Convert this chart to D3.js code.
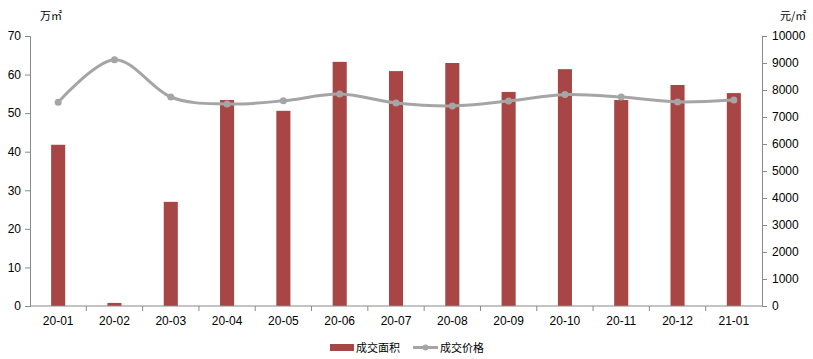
<!DOCTYPE html>
<html><head><meta charset="utf-8">
<script src="https://cdn.jsdelivr.net/npm/d3@7/dist/d3.min.js"></script>
<style>body{margin:0;background:#fff}svg{display:block;font-family:"Noto Sans CJK SC","Noto Sans",sans-serif}</style>
</head><body><svg id="c" width="813" height="359"></svg>
<script>
const categories = ["20-01","20-02","20-03","20-04","20-05","20-06","20-07","20-08","20-09","20-10","20-11","20-12","21-01"];
const area = [41.8,0.8,27.0,53.4,50.6,63.3,60.9,63.0,55.5,61.4,53.4,57.3,55.2];
const price = [7550,9120,7740,7480,7600,7850,7520,7410,7590,7830,7740,7560,7630];
const leftTicks = [0,10,20,30,40,50,60,70];
const rightTicks = [0,1000,2000,3000,4000,5000,6000,7000,8000,9000,10000];
const seriesNames = ["成交面积","成交价格"];
const units = ["万㎡","元/㎡"];

const svg = d3.select("#c");
const L=30,R=762,T=36,B=306;
const axisColor="#898989", barColor="#A84645", lineColor="#A5A5A5";
const x = d3.scaleBand().domain(categories).range([L,R]);
const yL = d3.scaleLinear().domain([0,70]).range([B,T]);
const yR = d3.scaleLinear().domain([0,10000]).range([B,T]);

// bars
const bw = x.bandwidth()*0.25;
svg.append("g").selectAll("rect").data(area).join("rect")
  .attr("x",(d,i)=>x(categories[i])+x.bandwidth()/2-bw/2)
  .attr("y",d=>yL(d)).attr("width",bw).attr("height",d=>B-yL(d)).attr("fill",barColor);

// axes
function styleAxis(g){g.selectAll("path,line").attr("stroke",axisColor);g.selectAll("text").attr("fill","#000").style("font-size","12px");}
svg.append("g").attr("transform",`translate(${L},0)`).call(d3.axisLeft(yL).tickValues(leftTicks).tickFormat(d3.format("d")).tickSizeOuter(0).tickSize(5).tickPadding(4)).call(styleAxis);
svg.append("g").attr("transform",`translate(${R},0)`).call(d3.axisRight(yR).tickValues(rightTicks).tickFormat(d3.format("d")).tickSizeOuter(0).tickSize(5).tickPadding(5)).call(styleAxis);
const gx = svg.append("g").attr("transform",`translate(0,${B})`).call(d3.axisBottom(x).tickSize(0).tickPadding(10)).call(styleAxis);
gx.select(".domain").remove();
gx.append("line").attr("x1",L).attr("x2",R).attr("stroke",axisColor);
svg.append("g").selectAll("line").data(categories.slice(1)).join("line")
  .attr("x1",d=>x(d)).attr("x2",d=>x(d)).attr("y1",B).attr("y2",B+5).attr("stroke",axisColor);

// line
const line = d3.line().x((d,i)=>x(categories[i])+x.bandwidth()/2).y(d=>yR(d)).curve(d3.curveCardinal.tension(0));
svg.append("path").datum(price).attr("d",line).attr("fill","none").attr("stroke",lineColor).attr("stroke-width",3);
svg.append("g").selectAll("circle").data(price).join("circle")
  .attr("cx",(d,i)=>x(categories[i])+x.bandwidth()/2).attr("cy",d=>yR(d)).attr("r",3.5).attr("fill",lineColor);

// units
svg.append("text").attr("x",40).attr("y",20).attr("text-anchor","start").style("font-size","11px").text(units[0]);
svg.append("text").attr("x",780).attr("y",20).attr("text-anchor","start").style("font-size","11px").text(units[1]);

// legend
const lg = svg.append("g");
lg.append("rect").attr("x",330).attr("y",344).attr("width",24).attr("height",7).attr("fill",barColor);
lg.append("text").attr("x",356).attr("y",352).style("font-size","11px").text(seriesNames[0]);
lg.append("line").attr("x1",413).attr("x2",438).attr("y1",347.5).attr("y2",347.5).attr("stroke",lineColor).attr("stroke-width",3);
lg.append("circle").attr("cx",425.5).attr("cy",347.5).attr("r",3).attr("fill",lineColor);
lg.append("text").attr("x",440).attr("y",352).style("font-size","11px").text(seriesNames[1]);
</script></body></html>
